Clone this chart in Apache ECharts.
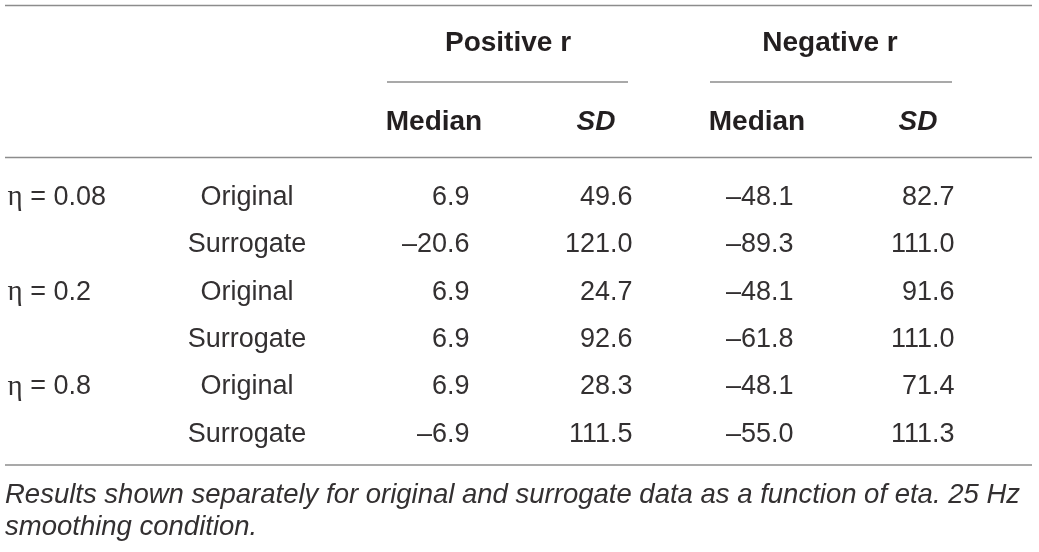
<!DOCTYPE html>
<html lang="en">
    <head>
        <meta charset="UTF-8" />
        <title>eCharts - Median and SD by eta</title>
        <script src="https://cdn.jsdelivr.net/npm/echarts@6.0.0/dist/echarts.min.js"></script>
        <style>
            html, body { margin: 0; padding: 0; background: #fff; }
        </style>
    </head>
    <body>
        <!-- Chart container -->
        <div id="main" style="width: 1039px; height: 552px"></div>

        <script>
            // Table data
            const etaLabels = ["\u03b7 = 0.08", "", "\u03b7 = 0.2", "", "\u03b7 = 0.8", ""];
            const conditions = ["Original", "Surrogate", "Original", "Surrogate", "Original", "Surrogate"];
            const posMedian = [6.9, -20.6, 6.9, 6.9, 6.9, -6.9];
            const posSD = [49.6, 121.0, 24.7, 92.6, 28.3, 111.5];
            const negMedian = [-48.1, -89.3, -48.1, -61.8, -48.1, -55.0];
            const negSD = [82.7, 111.0, 91.6, 111.0, 71.4, 111.3];
            const groupHeaders = ["Positive r", "Negative r"];
            const colHeaders = ["Median", "SD", "Median", "SD"];
            const caption = "Results shown separately for original and surrogate data as a function of eta. 25 Hz\nsmoothing condition.";

            // Layout (pixel anchors on the hidden x axis)
            const colX = { eta: 7, cond: 247, posMed: 470, posSD: 633, negMed: 794, negSD: 955 };
            const ink = "#231f20";
            const bodyInk = "#333031";
            const rule = "#8c8c8c";
            const font = "Liberation Sans";

            const fmt = (v) => v.toFixed(1).replace("-", "\u2013");

            let myChart = echarts.init(document.getElementById("main"));

            // one text column -> one scatter series with invisible symbols
            function column(x, texts, pos) {
                return {
                    type: "scatter",
                    symbolSize: 1,
                    itemStyle: { color: "rgba(0,0,0,0)", opacity: 1 },
                    silent: true,
                    data: texts.map((t, i) => ({ value: [x, i], name: t })),
                    label: {
                        show: true,
                        position: pos,
                        distance: 0,
                        // eta sign set in a serif face like the source
                        formatter: (p) => p.name.replace("\u03b7", "{g|\u03b7}"),
                        color: bodyInk,
                        fontFamily: font,
                        fontSize: 27,
                        rich: {
                            g: { fontFamily: "Liberation Serif", fontSize: 29, color: bodyInk }
                        }
                    }
                };
            }

            function hline(x1, x2, y) {
                return {
                    type: "line",
                    shape: { x1: x1, y1: y, x2: x2, y2: y },
                    style: { stroke: rule, lineWidth: 1.5 }
                };
            }

            function headText(text, x, y, italic) {
                return {
                    type: "text",
                    x: x,
                    y: y,
                    style: {
                        text: text,
                        fill: ink,
                        align: "center",
                        verticalAlign: "middle",
                        font: (italic ? "italic " : "") + "bold 28px '" + font + "'"
                    }
                };
            }

            let options = {
                animation: false,
                grid: { left: 0, right: 0, top: 174, height: 284 },
                xAxis: { type: "value", min: 0, max: 1039, show: false },
                yAxis: {
                    type: "category",
                    inverse: true,
                    data: conditions.map((c, i) => i),
                    show: false
                },
                series: [
                    column(colX.eta, etaLabels, "right"),
                    column(colX.cond, conditions, "inside"),
                    column(colX.posMed, posMedian.map(fmt), "left"),
                    column(colX.posSD, posSD.map(fmt), "left"),
                    column(colX.negMed, negMedian.map(fmt), "left"),
                    column(colX.negSD, negSD.map(fmt), "left")
                ],
                graphic: [
                    hline(5, 1032, 5.5),
                    hline(387, 628, 82),
                    hline(710, 952, 82),
                    hline(5, 1032, 157.5),
                    hline(5, 1032, 465),
                    headText(groupHeaders[0], 508, 43, false),
                    headText(groupHeaders[1], 830, 43, false),
                    headText(colHeaders[0], 434, 122, false),
                    headText(colHeaders[1], 596, 122, true),
                    headText(colHeaders[2], 757, 122, false),
                    headText(colHeaders[3], 918, 122, true),
                    {
                        type: "text",
                        x: 5,
                        y: 479,
                        style: {
                            text: caption,
                            fill: bodyInk,
                            lineHeight: 32,
                            font: "italic 27.5px '" + font + "'"
                        }
                    }
                ]
            };

            myChart.setOption(options);
        </script>
    </body>
</html>
